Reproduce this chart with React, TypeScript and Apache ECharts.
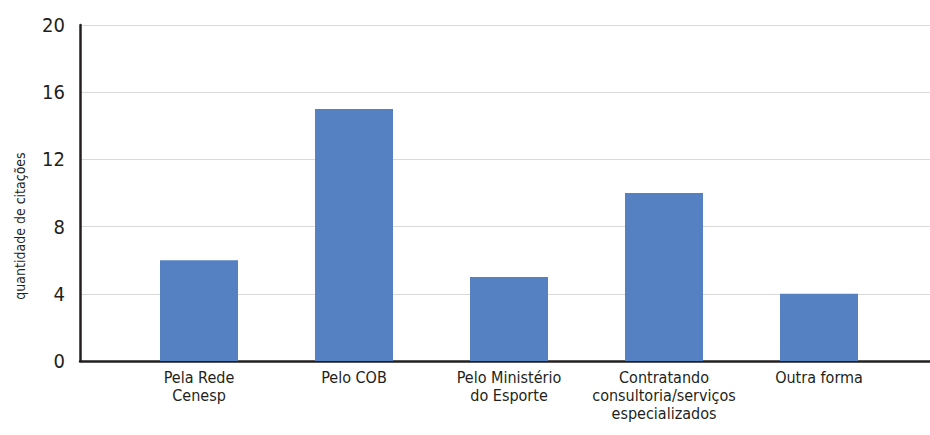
import React, { useEffect, useRef } from "react";
import * as echarts from "echarts";

const categories = [
  "Pela Rede\nCenesp",
  "Pelo COB",
  "Pelo Ministério\ndo Esporte",
  "Contratando\nconsultoria/serviços\nespecializados",
  "Outra forma",
];
const values = [6, 15, 5, 10, 4];
const yTicks = { min: 0, max: 20, interval: 4 };
const yTitle = "quantidade de citações";

const FONT = "'Liberation Sans Narrow', 'DejaVu Sans Condensed', 'Roboto Condensed', sans-serif";
const AXIS = "#231f20";

export default function App() {
  const ref = useRef<HTMLDivElement>(null);
  useEffect(() => {
    if (!ref.current) return;
    const chart = echarts.init(ref.current, undefined, { renderer: "svg" });
    chart.setOption({
      animation: false,
      textStyle: { fontFamily: FONT },
      grid: [
        { left: 80, right: 0, top: 25, bottom: 74 },
        { left: 121.5, right: 33.5, top: 25, bottom: 74 },
      ],
      xAxis: [
        {
          gridIndex: 0,
          type: "value",
          min: 0,
          max: 1,
          axisLine: { show: true, onZero: false, lineStyle: { color: AXIS, width: 2.5 } },
          axisTick: { show: false },
          axisLabel: { show: false },
          splitLine: { show: false },
        },
        {
          gridIndex: 1,
          type: "category",
          data: categories,
          axisLine: { show: false },
          axisTick: { show: false },
          axisLabel: {
            color: "#231f20",
            fontFamily: FONT,
            fontSize: 16,
            lineHeight: 18,
            margin: 7,
            interval: 0,
          },
        },
      ],
      yAxis: [
        {
          gridIndex: 0,
          type: "value",
          min: yTicks.min,
          max: yTicks.max,
          interval: yTicks.interval,
          axisLine: { show: true, lineStyle: { color: AXIS, width: 2.5 } },
          axisTick: { show: false },
          axisLabel: { color: "#231f20", fontFamily: FONT, fontSize: 20, margin: 15 },
          splitLine: { show: true, lineStyle: { color: "#d9d9d9", width: 1 } },
        },
        {
          gridIndex: 1,
          type: "value",
          min: yTicks.min,
          max: yTicks.max,
          interval: yTicks.interval,
          show: false,
          splitLine: { show: false },
        },
      ],
      series: [
        {
          type: "bar",
          xAxisIndex: 1,
          yAxisIndex: 1,
          data: values,
          barWidth: 78,
          itemStyle: { color: "#5581c3" },
        },
      ],
      graphic: [
        {
          type: "text",
          x: 20,
          y: 226,
          rotation: Math.PI / 2,
          style: {
            text: yTitle,
            fontFamily: FONT,
            fontSize: 14,
            fill: "#231f20",
            align: "center",
            verticalAlign: "middle",
          },
        },
      ],
    });
    return () => chart.dispose();
  }, []);
  return (
    <div
      ref={ref}
      style={{ position: "fixed", left: 0, top: 0, width: 930, height: 435, background: "#fff" }}
    />
  );
}
